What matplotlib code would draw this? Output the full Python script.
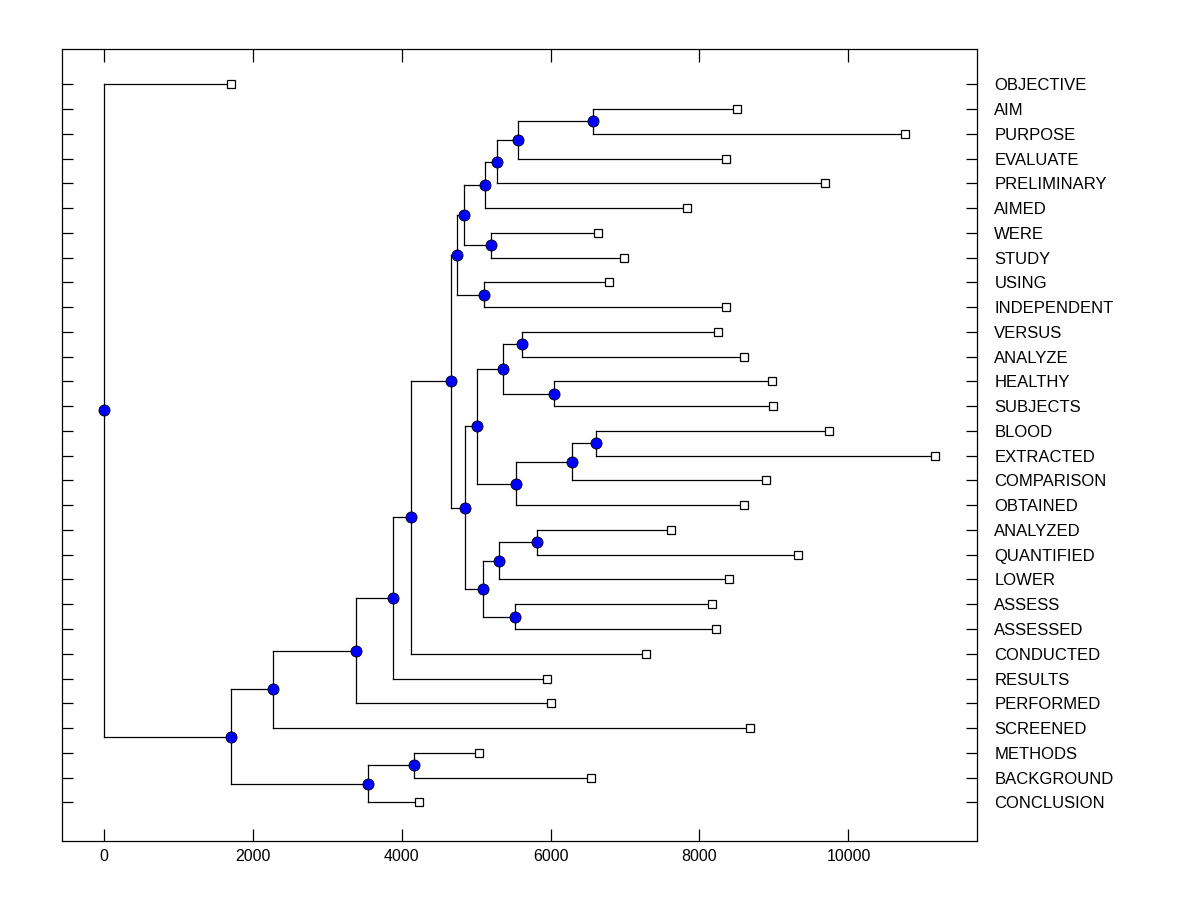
import matplotlib
matplotlib.use("Agg")
import matplotlib.pyplot as plt

plt.rcParams['font.family'] = ['Liberation Sans', 'DejaVu Sans']

# Leaves (top to bottom) and their positions on the x scale
leaf_names = ["OBJECTIVE", "AIM", "PURPOSE", "EVALUATE", "PRELIMINARY", "AIMED",
              "WERE", "STUDY", "USING", "INDEPENDENT", "VERSUS", "ANALYZE",
              "HEALTHY", "SUBJECTS", "BLOOD", "EXTRACTED", "COMPARISON", "OBTAINED",
              "ANALYZED", "QUANTIFIED", "LOWER", "ASSESS", "ASSESSED", "CONDUCTED",
              "RESULTS", "PERFORMED", "SCREENED", "METHODS", "BACKGROUND", "CONCLUSION"]
leaf_values = [1705, 8497, 10765, 8362, 9691, 7826,
               6644, 6980, 6779, 8362, 8255, 8591,
               8980, 8993, 9745, 11168, 8899, 8591,
               7611, 9329, 8402, 8174, 8215, 7288,
               5946, 6013, 8684, 5034, 6550, 4228]

# Internal nodes: name, upper child, lower child, value (children defined first)
node_names = ["Q", "P", "O", "M", "N", "K", "L", "I",
              "V", "W", "T", "Y", "X", "U", "R",
              "AB", "Z", "AA", "S", "J", "H", "G", "F", "E", "B",
              "D", "C", "A", "ROOT"]
node_upper = ["AIM", "Q", "P", "O", "WERE", "M", "USING", "K",
              "VERSUS", "HEALTHY", "V", "BLOOD", "Y", "X", "T",
              "ANALYZED", "AB", "ASSESS", "Z", "R", "I", "H", "G", "F", "E",
              "METHODS", "D", "B", "OBJECTIVE"]
node_lower = ["PURPOSE", "EVALUATE", "PRELIMINARY", "AIMED", "STUDY", "N", "INDEPENDENT", "L",
              "ANALYZE", "SUBJECTS", "W", "EXTRACTED", "COMPARISON", "OBTAINED", "U",
              "QUANTIFIED", "LOWER", "ASSESSED", "AA", "S", "J", "CONDUCTED", "RESULTS", "PERFORMED", "SCREENED",
              "BACKGROUND", "CONCLUSION", "C", "A"]
node_values = [6564, 5570, 5288, 5114, 5195, 4832, 5105, 4738,
               5611, 6040, 5356, 6617, 6295, 5530, 5007,
               5825, 5302, 5517, 5096, 4846, 4658, 4121, 3879, 3382, 2268,
               4161, 3544, 1705, 0]

xticks = [0, 2000, 4000, 6000, 8000, 10000]

pos = {}
for i, (n, v) in enumerate(zip(leaf_names, leaf_values)):
    pos[n] = (v, i)
for n, u, l, v in zip(node_names, node_upper, node_lower, node_values):
    pos[n] = (v, (pos[u][1] + pos[l][1]) / 2.0)

fig = plt.figure(figsize=(12, 9), dpi=100)
ax = fig.add_axes([0.0517, 0.0656, 0.7625, 0.8796])

lw = 0.9
for n, u, l, v in zip(node_names, node_upper, node_lower, node_values):
    yu = pos[u][1]
    yl = pos[l][1]
    ax.plot([v, v], [yu, yl], color='black', lw=lw, zorder=1)
    ax.plot([v, pos[u][0]], [yu, yu], color='black', lw=lw, zorder=1)
    ax.plot([v, pos[l][0]], [yl, yl], color='black', lw=lw, zorder=1)

ax.plot([pos[n][0] for n in node_names], [pos[n][1] for n in node_names],
        linestyle='none', marker='o', markersize=8, markerfacecolor='#0000ff',
        markeredgecolor='black', markeredgewidth=0.6, zorder=3)
ax.plot(leaf_values, list(range(len(leaf_names))),
        linestyle='none', marker='s', markersize=6, markerfacecolor='white',
        markeredgecolor='black', markeredgewidth=0.9, zorder=3)

span = max(leaf_values) - 0
ax.set_xlim(-0.05 * span, max(leaf_values) + 0.05 * span)
n = len(leaf_names)
ax.set_ylim(n - 1 + 1.56, -1.41)

ax.set_xticks(xticks)
ax.set_xticklabels([str(t) for t in xticks])
ax.set_yticks(range(n))
ax.set_yticklabels(leaf_names)

ax.tick_params(axis='x', direction='in', length=9, width=0.9, top=True, bottom=True,
               labelsize=11.5, pad=6)
ax.tick_params(axis='y', direction='in', length=8, width=0.9, left=True, right=True,
               labelleft=False, labelright=True, labelsize=12, pad=12.5)
for s in ax.spines.values():
    s.set_linewidth(0.9)

fig.savefig("out.png", dpi=100)
